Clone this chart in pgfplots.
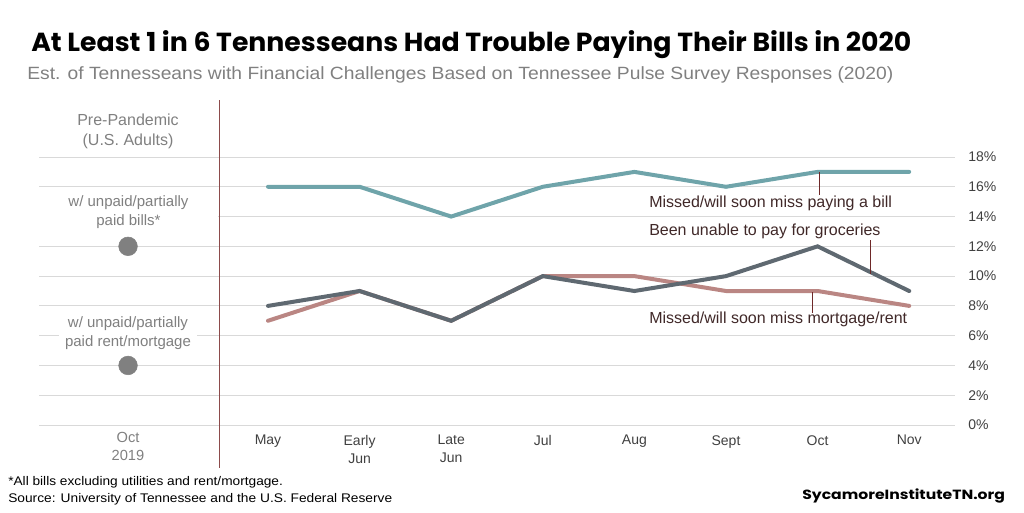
\documentclass[border=0pt]{standalone}
\usepackage{pgfplots}
\pgfplotsset{compat=1.18}
\usepackage{fontspec}
\setmainfont{Liberation Sans}
\newfontfamily\titlefont{Poppins}
\definecolor{teal}{RGB}{111,164,170}
\definecolor{grayline}{RGB}{95,105,113}
\definecolor{rose}{RGB}{186,134,131}
\definecolor{dotgray}{RGB}{128,128,128}
\definecolor{txtgray}{RGB}{128,128,128}
\definecolor{annot}{RGB}{64,40,40}
\definecolor{leader}{RGB}{110,40,40}
\definecolor{vline}{RGB}{140,75,75}
\definecolor{gridgray}{RGB}{217,217,217}
\definecolor{tickcol}{RGB}{64,64,64}
\begin{document}
\begin{tikzpicture}
\useasboundingbox (0,0) rectangle (768pt,384pt);
\begin{axis}[
  at={(29.25pt,65.25pt)}, anchor=south west,
  scale only axis, width=687pt, height=201pt,
  xmin=-1.5, xmax=8.5, ymin=0, ymax=18,
  clip=false,
  axis line style={draw=none},
  major tick length=0pt,
  ytick={0,2,...,18},
  yticklabels={0\%,2\%,4\%,6\%,8\%,10\%,12\%,14\%,16\%,18\%},
  yticklabel pos=right,
  yticklabel style={font=\fontsize{10.5}{12}\selectfont, text=tickcol, anchor=west, inner sep=0pt, xshift=9.75pt},
  ymajorgrids,
  grid style={color=gridgray, line width=0.75pt},
  xtick={1,...,8},
  xticklabels={May,{Early\\Jun},{Late\\Jun},Jul,Aug,Sept,Oct,Nov},
  xticklabel style={font=\fontsize{10.5}{13.5}\selectfont, text=tickcol, align=center, anchor=north, inner sep=0pt, yshift=-7.5pt},
]
\addplot[teal, line width=3pt, line cap=round] coordinates {(1,16)(2,16)(3,14)(4,16)(5,17)(6,16)(7,17)(8,17)};
\addplot[rose, line width=3pt, line cap=round] coordinates {(1,7)(2,9)(3,7)(4,10)(5,10)(6,9)(7,9)(8,8)};
\addplot[grayline, line width=3pt, line cap=round] coordinates {(1,8)(2,9)(3,7)(4,10)(5,9)(6,10)(7,12)(8,9)};
\addplot[only marks, mark=*, mark size=7pt, color=dotgray, mark options={draw=dotgray, fill=dotgray}] coordinates {(-0.528,12)(-0.528,4)};
\end{axis}
\begin{scope}[x=0.75pt,y=-0.75pt,yshift=384pt]
% left panel labels
\node[text=txtgray, font=\fontsize{12}{15}\selectfont, align=center] at (128,131) {Pre-Pandemic\\(U.S. Adults)};
\node[text=txtgray, font=\fontsize{11.25}{14.25}\selectfont, align=center, fill=white, minimum width=134.25pt, inner ysep=2pt] at (128.5,212) {w/ unpaid/partially\\paid bills*};
\node[text=txtgray, font=\fontsize{11.25}{14.25}\selectfont, align=center, fill=white, inner xsep=4.5pt, inner ysep=2pt] at (128,333) {w/ unpaid/partially\\paid rent/mortgage};
\node[text=txtgray, font=\fontsize{11}{13.5}\selectfont, align=center] at (128,446) {Oct\\2019};
% vertical divider
\draw[vline, line width=0.9pt] (219.5,100) -- (219.5,468);
% annotations
\draw[leader, line width=0.75pt] (819,172) -- (819,195);
\draw[leader, line width=0.75pt] (870,240) -- (870,274);
\draw[leader, line width=0.75pt] (812,292) -- (812,313);
\node[text=annot, font=\fontsize{12}{14}\selectfont, anchor=west, inner sep=0pt] at (649,203) {Missed/will soon miss paying a bill};
\node[text=annot, font=\fontsize{12}{14}\selectfont, anchor=west, inner sep=0pt] at (649,231) {Been unable to pay for groceries};
\node[text=annot, font=\fontsize{12}{14}\selectfont, anchor=west, inner sep=0pt] at (649,319) {Missed/will soon miss mortgage/rent};
% title and subtitle
\node[anchor=base west, inner sep=0pt] at (31,51) {\resizebox{660pt}{\height}{\titlefont\bfseries\fontsize{19.6}{22}\selectfont At Least 1 in 6 Tennesseans Had Trouble Paying Their Bills in 2020}};
\node[anchor=base west, inner sep=0pt, text=txtgray] at (27,79.3) {\resizebox{649.5pt}{\height}{\fontsize{13.3}{15}\selectfont Est. of Tennesseans with Financial Challenges Based on Tennessee Pulse Survey Responses (2020)}};
% footer
\node[anchor=base west, inner sep=0pt] at (8,485) {\resizebox{206pt}{\height}{\fontsize{9.4}{11}\selectfont *All bills excluding utilities and rent/mortgage.}};
\node[anchor=base west, inner sep=0pt] at (8,502.7) {\resizebox{288pt}{\height}{\fontsize{9.4}{11}\selectfont Source: University of Tennessee and the U.S. Federal Reserve}};
\node[anchor=base west, inner sep=0pt] at (802,499) {\resizebox{152pt}{\height}{\titlefont\bfseries\fontsize{10}{12}\selectfont SycamoreInstituteTN.org}};
\end{scope}
\end{tikzpicture}
\end{document}
